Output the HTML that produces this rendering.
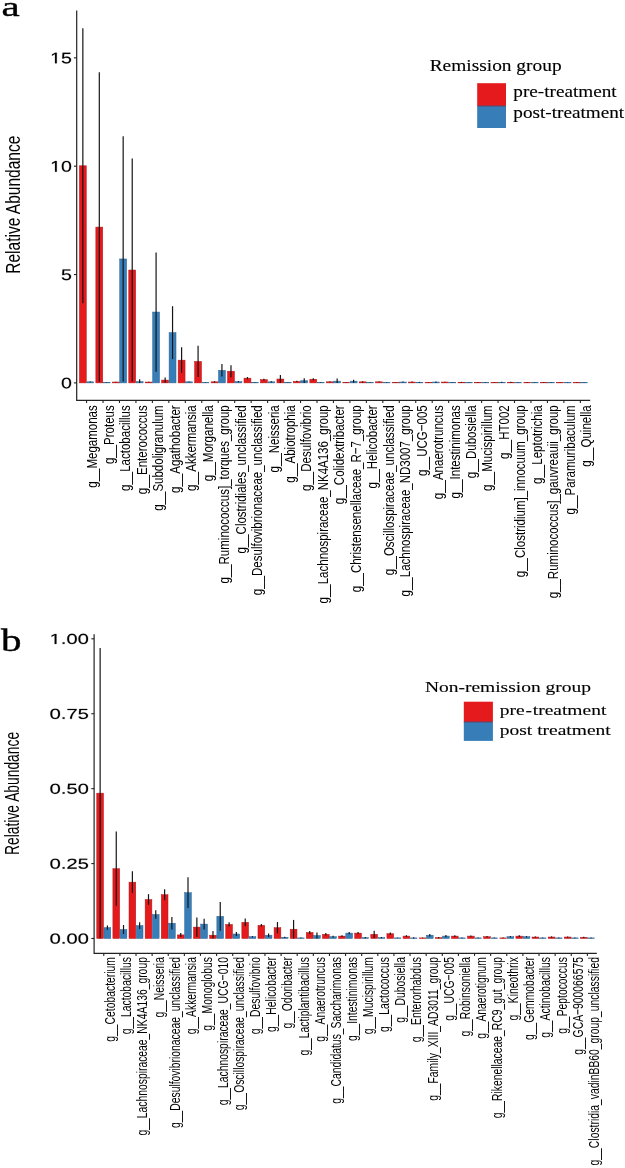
<!DOCTYPE html><html><head><meta charset="utf-8"><style>html,body{margin:0;padding:0;background:#fff;}svg{display:block;filter:blur(0.45px)}.s{font-family:"Liberation Sans",sans-serif;fill:#000}.f{font-family:"Liberation Serif",serif;fill:#000;stroke:#000;stroke-width:0.15px}.fb{stroke:#000;stroke-width:0.5px}</style></head><body>
<svg width="625" height="1168" viewBox="0 0 625 1168">
<rect width="625" height="1168" fill="#fff"/>
<defs><path id="g48" d="M1059 705Q1059 352 934.5 166.0Q810 -20 567 -20Q324 -20 202.0 165.0Q80 350 80 705Q80 1068 198.5 1249.0Q317 1430 573 1430Q822 1430 940.5 1247.0Q1059 1064 1059 705ZM876 705Q876 1010 805.5 1147.0Q735 1284 573 1284Q407 1284 334.5 1149.0Q262 1014 262 705Q262 405 335.5 266.0Q409 127 569 127Q728 127 802.0 269.0Q876 411 876 705Z"/><path id="g49" d="M515 0V1237L197 1010V1180L530 1409H696V0Z"/><path id="g50" d="M103 0V127Q154 244 227.5 333.5Q301 423 382.0 495.5Q463 568 542.5 630.0Q622 692 686.0 754.0Q750 816 789.5 884.0Q829 952 829 1038Q829 1154 761.0 1218.0Q693 1282 572 1282Q457 1282 382.5 1219.5Q308 1157 295 1044L111 1061Q131 1230 254.5 1330.0Q378 1430 572 1430Q785 1430 899.5 1329.5Q1014 1229 1014 1044Q1014 962 976.5 881.0Q939 800 865.0 719.0Q791 638 582 468Q467 374 399.0 298.5Q331 223 301 153H1036V0Z"/><path id="g53" d="M1053 459Q1053 236 920.5 108.0Q788 -20 553 -20Q356 -20 235.0 66.0Q114 152 82 315L264 336Q321 127 557 127Q702 127 784.0 214.5Q866 302 866 455Q866 588 783.5 670.0Q701 752 561 752Q488 752 425.0 729.0Q362 706 299 651H123L170 1409H971V1256H334L307 809Q424 899 598 899Q806 899 929.5 777.0Q1053 655 1053 459Z"/><path id="g55" d="M1036 1263Q820 933 731.0 746.0Q642 559 597.5 377.0Q553 195 553 0H365Q365 270 479.5 568.5Q594 867 862 1256H105V1409H1036Z"/><path id="g46" d="M187 0V219H382V0Z"/></defs>
<rect x="79.39" y="165.77" width="6.91" height="217.13" fill="#E41A1C" stroke="#B5181B" stroke-width="0.5"/>
<rect x="86.80" y="381.82" width="6.91" height="1.08" fill="#377EB8" stroke="#2C6594" stroke-width="0.5"/>
<rect x="95.85" y="227.09" width="6.91" height="155.81" fill="#E41A1C" stroke="#B5181B" stroke-width="0.5"/>
<rect x="103.26" y="382.47" width="6.91" height="0.43" fill="#377EB8" stroke="#2C6594" stroke-width="0.5"/>
<rect x="112.31" y="382.03" width="6.91" height="0.87" fill="#E41A1C" stroke="#B5181B" stroke-width="0.5"/>
<rect x="119.72" y="258.95" width="6.91" height="123.95" fill="#377EB8" stroke="#2C6594" stroke-width="0.5"/>
<rect x="128.77" y="270.00" width="6.91" height="112.90" fill="#E41A1C" stroke="#B5181B" stroke-width="0.5"/>
<rect x="136.18" y="381.60" width="6.91" height="1.30" fill="#377EB8" stroke="#2C6594" stroke-width="0.5"/>
<rect x="145.23" y="382.03" width="6.91" height="0.87" fill="#E41A1C" stroke="#B5181B" stroke-width="0.5"/>
<rect x="152.64" y="312.04" width="6.91" height="70.86" fill="#377EB8" stroke="#2C6594" stroke-width="0.5"/>
<rect x="161.69" y="380.08" width="6.91" height="2.82" fill="#E41A1C" stroke="#B5181B" stroke-width="0.5"/>
<rect x="169.10" y="332.63" width="6.91" height="50.27" fill="#377EB8" stroke="#2C6594" stroke-width="0.5"/>
<rect x="178.15" y="360.15" width="6.91" height="22.75" fill="#E41A1C" stroke="#B5181B" stroke-width="0.5"/>
<rect x="185.56" y="381.82" width="6.91" height="1.08" fill="#377EB8" stroke="#2C6594" stroke-width="0.5"/>
<rect x="194.61" y="361.45" width="6.91" height="21.45" fill="#E41A1C" stroke="#B5181B" stroke-width="0.5"/>
<rect x="202.02" y="382.68" width="6.91" height="0.22" fill="#377EB8" stroke="#2C6594" stroke-width="0.5"/>
<rect x="211.07" y="381.82" width="6.91" height="1.08" fill="#E41A1C" stroke="#B5181B" stroke-width="0.5"/>
<rect x="218.48" y="370.33" width="6.91" height="12.57" fill="#377EB8" stroke="#2C6594" stroke-width="0.5"/>
<rect x="227.53" y="371.20" width="6.91" height="11.70" fill="#E41A1C" stroke="#B5181B" stroke-width="0.5"/>
<rect x="234.94" y="381.60" width="6.91" height="1.30" fill="#377EB8" stroke="#2C6594" stroke-width="0.5"/>
<rect x="243.99" y="378.13" width="6.91" height="4.77" fill="#E41A1C" stroke="#B5181B" stroke-width="0.5"/>
<rect x="251.40" y="382.47" width="6.91" height="0.43" fill="#377EB8" stroke="#2C6594" stroke-width="0.5"/>
<rect x="260.45" y="379.65" width="6.91" height="3.25" fill="#E41A1C" stroke="#B5181B" stroke-width="0.5"/>
<rect x="267.86" y="381.82" width="6.91" height="1.08" fill="#377EB8" stroke="#2C6594" stroke-width="0.5"/>
<rect x="276.91" y="379.00" width="6.91" height="3.90" fill="#E41A1C" stroke="#B5181B" stroke-width="0.5"/>
<rect x="284.32" y="382.47" width="6.91" height="0.43" fill="#377EB8" stroke="#2C6594" stroke-width="0.5"/>
<rect x="293.37" y="381.38" width="6.91" height="1.52" fill="#E41A1C" stroke="#B5181B" stroke-width="0.5"/>
<rect x="300.78" y="380.73" width="6.91" height="2.17" fill="#377EB8" stroke="#2C6594" stroke-width="0.5"/>
<rect x="309.83" y="379.22" width="6.91" height="3.68" fill="#E41A1C" stroke="#B5181B" stroke-width="0.5"/>
<rect x="317.24" y="382.47" width="6.91" height="0.43" fill="#377EB8" stroke="#2C6594" stroke-width="0.5"/>
<rect x="326.29" y="381.82" width="6.91" height="1.08" fill="#E41A1C" stroke="#B5181B" stroke-width="0.5"/>
<rect x="333.70" y="381.17" width="6.91" height="1.73" fill="#377EB8" stroke="#2C6594" stroke-width="0.5"/>
<rect x="342.75" y="382.47" width="6.91" height="0.43" fill="#E41A1C" stroke="#B5181B" stroke-width="0.5"/>
<rect x="350.16" y="381.17" width="6.91" height="1.73" fill="#377EB8" stroke="#2C6594" stroke-width="0.5"/>
<rect x="359.21" y="381.82" width="6.91" height="1.08" fill="#E41A1C" stroke="#B5181B" stroke-width="0.5"/>
<rect x="366.62" y="382.47" width="6.91" height="0.43" fill="#377EB8" stroke="#2C6594" stroke-width="0.5"/>
<rect x="375.67" y="381.82" width="6.91" height="1.08" fill="#E41A1C" stroke="#B5181B" stroke-width="0.5"/>
<rect x="383.08" y="382.47" width="6.91" height="0.43" fill="#377EB8" stroke="#2C6594" stroke-width="0.5"/>
<rect x="392.13" y="382.47" width="6.91" height="0.43" fill="#E41A1C" stroke="#B5181B" stroke-width="0.5"/>
<rect x="399.54" y="382.03" width="6.91" height="0.87" fill="#377EB8" stroke="#2C6594" stroke-width="0.5"/>
<rect x="408.59" y="382.03" width="6.91" height="0.87" fill="#E41A1C" stroke="#B5181B" stroke-width="0.5"/>
<rect x="416.00" y="382.25" width="6.91" height="0.65" fill="#377EB8" stroke="#2C6594" stroke-width="0.5"/>
<rect x="425.05" y="382.47" width="6.91" height="0.43" fill="#E41A1C" stroke="#B5181B" stroke-width="0.5"/>
<rect x="432.46" y="382.03" width="6.91" height="0.87" fill="#377EB8" stroke="#2C6594" stroke-width="0.5"/>
<rect x="441.51" y="382.03" width="6.91" height="0.87" fill="#E41A1C" stroke="#B5181B" stroke-width="0.5"/>
<rect x="448.92" y="382.25" width="6.91" height="0.65" fill="#377EB8" stroke="#2C6594" stroke-width="0.5"/>
<rect x="457.97" y="382.25" width="6.91" height="0.65" fill="#E41A1C" stroke="#B5181B" stroke-width="0.5"/>
<rect x="465.38" y="382.47" width="6.91" height="0.43" fill="#377EB8" stroke="#2C6594" stroke-width="0.5"/>
<rect x="474.43" y="382.25" width="6.91" height="0.65" fill="#E41A1C" stroke="#B5181B" stroke-width="0.5"/>
<rect x="481.84" y="382.47" width="6.91" height="0.43" fill="#377EB8" stroke="#2C6594" stroke-width="0.5"/>
<rect x="490.89" y="382.47" width="6.91" height="0.43" fill="#E41A1C" stroke="#B5181B" stroke-width="0.5"/>
<rect x="498.30" y="382.25" width="6.91" height="0.65" fill="#377EB8" stroke="#2C6594" stroke-width="0.5"/>
<rect x="507.35" y="382.25" width="6.91" height="0.65" fill="#E41A1C" stroke="#B5181B" stroke-width="0.5"/>
<rect x="514.76" y="382.68" width="6.91" height="0.22" fill="#377EB8" stroke="#2C6594" stroke-width="0.5"/>
<rect x="523.81" y="382.47" width="6.91" height="0.43" fill="#E41A1C" stroke="#B5181B" stroke-width="0.5"/>
<rect x="531.22" y="382.47" width="6.91" height="0.43" fill="#377EB8" stroke="#2C6594" stroke-width="0.5"/>
<rect x="540.27" y="382.47" width="6.91" height="0.43" fill="#E41A1C" stroke="#B5181B" stroke-width="0.5"/>
<rect x="547.68" y="382.47" width="6.91" height="0.43" fill="#377EB8" stroke="#2C6594" stroke-width="0.5"/>
<rect x="556.73" y="382.47" width="6.91" height="0.43" fill="#E41A1C" stroke="#B5181B" stroke-width="0.5"/>
<rect x="564.14" y="382.68" width="6.91" height="0.22" fill="#377EB8" stroke="#2C6594" stroke-width="0.5"/>
<rect x="573.19" y="382.47" width="6.91" height="0.43" fill="#E41A1C" stroke="#B5181B" stroke-width="0.5"/>
<rect x="580.60" y="382.68" width="6.91" height="0.22" fill="#377EB8" stroke="#2C6594" stroke-width="0.5"/>
<line x1="82.85" y1="28.16" x2="82.85" y2="303.37" stroke="#151515" stroke-width="1.2"/>
<line x1="90.25" y1="381.38" x2="90.25" y2="382.25" stroke="#151515" stroke-width="1.2"/>
<line x1="99.31" y1="72.37" x2="99.31" y2="381.82" stroke="#151515" stroke-width="1.2"/>
<line x1="106.71" y1="382.25" x2="106.71" y2="382.68" stroke="#151515" stroke-width="1.2"/>
<line x1="115.77" y1="381.82" x2="115.77" y2="382.25" stroke="#151515" stroke-width="1.2"/>
<line x1="123.17" y1="136.30" x2="123.17" y2="381.60" stroke="#151515" stroke-width="1.2"/>
<line x1="132.23" y1="158.40" x2="132.23" y2="381.60" stroke="#151515" stroke-width="1.2"/>
<line x1="139.63" y1="379.22" x2="139.63" y2="382.90" stroke="#151515" stroke-width="1.2"/>
<line x1="148.69" y1="381.82" x2="148.69" y2="382.25" stroke="#151515" stroke-width="1.2"/>
<line x1="156.09" y1="252.45" x2="156.09" y2="371.63" stroke="#151515" stroke-width="1.2"/>
<line x1="165.15" y1="377.48" x2="165.15" y2="382.68" stroke="#151515" stroke-width="1.2"/>
<line x1="172.55" y1="306.19" x2="172.55" y2="359.06" stroke="#151515" stroke-width="1.2"/>
<line x1="181.61" y1="347.36" x2="181.61" y2="372.93" stroke="#151515" stroke-width="1.2"/>
<line x1="189.01" y1="381.38" x2="189.01" y2="382.25" stroke="#151515" stroke-width="1.2"/>
<line x1="198.07" y1="345.84" x2="198.07" y2="377.05" stroke="#151515" stroke-width="1.2"/>
<line x1="205.47" y1="382.47" x2="205.47" y2="382.90" stroke="#151515" stroke-width="1.2"/>
<line x1="214.53" y1="381.17" x2="214.53" y2="382.47" stroke="#151515" stroke-width="1.2"/>
<line x1="221.93" y1="364.05" x2="221.93" y2="376.62" stroke="#151515" stroke-width="1.2"/>
<line x1="230.99" y1="365.13" x2="230.99" y2="377.27" stroke="#151515" stroke-width="1.2"/>
<line x1="238.39" y1="380.95" x2="238.39" y2="382.25" stroke="#151515" stroke-width="1.2"/>
<line x1="247.45" y1="377.05" x2="247.45" y2="379.22" stroke="#151515" stroke-width="1.2"/>
<line x1="254.85" y1="382.25" x2="254.85" y2="382.68" stroke="#151515" stroke-width="1.2"/>
<line x1="263.91" y1="378.78" x2="263.91" y2="380.52" stroke="#151515" stroke-width="1.2"/>
<line x1="271.31" y1="381.17" x2="271.31" y2="382.47" stroke="#151515" stroke-width="1.2"/>
<line x1="280.37" y1="374.88" x2="280.37" y2="382.90" stroke="#151515" stroke-width="1.2"/>
<line x1="287.77" y1="382.25" x2="287.77" y2="382.68" stroke="#151515" stroke-width="1.2"/>
<line x1="296.83" y1="380.73" x2="296.83" y2="382.03" stroke="#151515" stroke-width="1.2"/>
<line x1="304.23" y1="378.13" x2="304.23" y2="382.90" stroke="#151515" stroke-width="1.2"/>
<line x1="313.29" y1="378.13" x2="313.29" y2="380.30" stroke="#151515" stroke-width="1.2"/>
<line x1="320.69" y1="382.25" x2="320.69" y2="382.68" stroke="#151515" stroke-width="1.2"/>
<line x1="329.75" y1="381.38" x2="329.75" y2="382.25" stroke="#151515" stroke-width="1.2"/>
<line x1="337.15" y1="378.57" x2="337.15" y2="382.90" stroke="#151515" stroke-width="1.2"/>
<line x1="346.21" y1="382.25" x2="346.21" y2="382.68" stroke="#151515" stroke-width="1.2"/>
<line x1="353.61" y1="379.65" x2="353.61" y2="382.68" stroke="#151515" stroke-width="1.2"/>
<line x1="362.67" y1="381.17" x2="362.67" y2="382.47" stroke="#151515" stroke-width="1.2"/>
<line x1="370.07" y1="382.25" x2="370.07" y2="382.68" stroke="#151515" stroke-width="1.2"/>
<line x1="379.13" y1="381.38" x2="379.13" y2="382.25" stroke="#151515" stroke-width="1.2"/>
<line x1="386.53" y1="382.25" x2="386.53" y2="382.68" stroke="#151515" stroke-width="1.2"/>
<line x1="395.59" y1="382.25" x2="395.59" y2="382.68" stroke="#151515" stroke-width="1.2"/>
<line x1="402.99" y1="381.60" x2="402.99" y2="382.47" stroke="#151515" stroke-width="1.2"/>
<line x1="412.05" y1="381.60" x2="412.05" y2="382.47" stroke="#151515" stroke-width="1.2"/>
<line x1="419.45" y1="381.82" x2="419.45" y2="382.68" stroke="#151515" stroke-width="1.2"/>
<line x1="428.51" y1="382.25" x2="428.51" y2="382.68" stroke="#151515" stroke-width="1.2"/>
<line x1="435.91" y1="381.38" x2="435.91" y2="382.68" stroke="#151515" stroke-width="1.2"/>
<line x1="444.97" y1="381.82" x2="444.97" y2="382.25" stroke="#151515" stroke-width="1.2"/>
<line x1="452.37" y1="382.03" x2="452.37" y2="382.47" stroke="#151515" stroke-width="1.2"/>
<line x1="461.43" y1="381.82" x2="461.43" y2="382.68" stroke="#151515" stroke-width="1.2"/>
<line x1="468.83" y1="382.25" x2="468.83" y2="382.68" stroke="#151515" stroke-width="1.2"/>
<line x1="477.89" y1="382.03" x2="477.89" y2="382.47" stroke="#151515" stroke-width="1.2"/>
<line x1="485.29" y1="382.25" x2="485.29" y2="382.68" stroke="#151515" stroke-width="1.2"/>
<line x1="494.35" y1="382.25" x2="494.35" y2="382.68" stroke="#151515" stroke-width="1.2"/>
<line x1="501.75" y1="381.82" x2="501.75" y2="382.68" stroke="#151515" stroke-width="1.2"/>
<line x1="510.81" y1="381.82" x2="510.81" y2="382.68" stroke="#151515" stroke-width="1.2"/>
<line x1="518.21" y1="382.47" x2="518.21" y2="382.90" stroke="#151515" stroke-width="1.2"/>
<line x1="527.27" y1="382.25" x2="527.27" y2="382.68" stroke="#151515" stroke-width="1.2"/>
<line x1="534.67" y1="382.25" x2="534.67" y2="382.68" stroke="#151515" stroke-width="1.2"/>
<line x1="543.73" y1="382.25" x2="543.73" y2="382.68" stroke="#151515" stroke-width="1.2"/>
<line x1="551.13" y1="382.25" x2="551.13" y2="382.68" stroke="#151515" stroke-width="1.2"/>
<line x1="560.19" y1="382.25" x2="560.19" y2="382.68" stroke="#151515" stroke-width="1.2"/>
<line x1="567.59" y1="382.47" x2="567.59" y2="382.90" stroke="#151515" stroke-width="1.2"/>
<line x1="576.65" y1="382.25" x2="576.65" y2="382.68" stroke="#151515" stroke-width="1.2"/>
<line x1="584.05" y1="382.47" x2="584.05" y2="382.90" stroke="#151515" stroke-width="1.2"/>
<path d="M76.7 10.5 V400.4 H590.2" fill="none" stroke="#222222" stroke-width="1.2"/>
<line x1="73.90" y1="382.90" x2="76.7" y2="382.90" stroke="#222222" stroke-width="1.1"/>
<g transform="translate(61.00,388.35) scale(0.00957,-0.00749)" fill="#000" stroke="#000" stroke-width="26.1"><use href="#g48" x="0"/></g>
<line x1="73.90" y1="274.55" x2="76.7" y2="274.55" stroke="#222222" stroke-width="1.1"/>
<g transform="translate(61.00,280.00) scale(0.00957,-0.00749)" fill="#000" stroke="#000" stroke-width="26.1"><use href="#g53" x="0"/></g>
<line x1="73.90" y1="166.20" x2="76.7" y2="166.20" stroke="#222222" stroke-width="1.1"/>
<g transform="translate(50.10,171.65) scale(0.00957,-0.00749)" fill="#000" stroke="#000" stroke-width="26.1"><use href="#g49" x="0"/><use href="#g48" x="1139"/></g>
<line x1="73.90" y1="57.85" x2="76.7" y2="57.85" stroke="#222222" stroke-width="1.1"/>
<g transform="translate(50.10,63.30) scale(0.00957,-0.00749)" fill="#000" stroke="#000" stroke-width="26.1"><use href="#g49" x="0"/><use href="#g53" x="1139"/></g>
<line x1="86.55" y1="400.4" x2="86.55" y2="403.00" stroke="#222222" stroke-width="1.1"/>
<text transform="translate(97.45,405.3) scale(1,0.757) rotate(-90)" font-size="15.2" text-anchor="end" class="s">g__Megamonas</text>
<line x1="103.01" y1="400.4" x2="103.01" y2="403.00" stroke="#222222" stroke-width="1.1"/>
<text transform="translate(113.91,405.3) scale(1,0.757) rotate(-90)" font-size="15.2" text-anchor="end" class="s">g__Proteus</text>
<line x1="119.47" y1="400.4" x2="119.47" y2="403.00" stroke="#222222" stroke-width="1.1"/>
<text transform="translate(130.37,405.3) scale(1,0.757) rotate(-90)" font-size="15.2" text-anchor="end" class="s">g__Lactobacillus</text>
<line x1="135.93" y1="400.4" x2="135.93" y2="403.00" stroke="#222222" stroke-width="1.1"/>
<text transform="translate(146.83,405.3) scale(1,0.757) rotate(-90)" font-size="15.2" text-anchor="end" class="s">g__Enterococcus</text>
<line x1="152.39" y1="400.4" x2="152.39" y2="403.00" stroke="#222222" stroke-width="1.1"/>
<text transform="translate(163.29,405.3) scale(1,0.757) rotate(-90)" font-size="15.2" text-anchor="end" class="s">g__Subdoligranulum</text>
<line x1="168.85" y1="400.4" x2="168.85" y2="403.00" stroke="#222222" stroke-width="1.1"/>
<text transform="translate(179.75,405.3) scale(1,0.757) rotate(-90)" font-size="15.2" text-anchor="end" class="s">g__Agathobacter</text>
<line x1="185.31" y1="400.4" x2="185.31" y2="403.00" stroke="#222222" stroke-width="1.1"/>
<text transform="translate(196.21,405.3) scale(1,0.757) rotate(-90)" font-size="15.2" text-anchor="end" class="s">g__Akkermansia</text>
<line x1="201.77" y1="400.4" x2="201.77" y2="403.00" stroke="#222222" stroke-width="1.1"/>
<text transform="translate(212.67,405.3) scale(1,0.757) rotate(-90)" font-size="15.2" text-anchor="end" class="s">g__Morganella</text>
<line x1="218.23" y1="400.4" x2="218.23" y2="403.00" stroke="#222222" stroke-width="1.1"/>
<text transform="translate(229.13,405.3) scale(1,0.757) rotate(-90)" font-size="15.2" text-anchor="end" class="s">g__Ruminococcus]_torques_group</text>
<line x1="234.69" y1="400.4" x2="234.69" y2="403.00" stroke="#222222" stroke-width="1.1"/>
<text transform="translate(245.59,405.3) scale(1,0.757) rotate(-90)" font-size="15.2" text-anchor="end" class="s">g__Clostridiales_unclassified</text>
<line x1="251.15" y1="400.4" x2="251.15" y2="403.00" stroke="#222222" stroke-width="1.1"/>
<text transform="translate(262.05,405.3) scale(1,0.757) rotate(-90)" font-size="15.2" text-anchor="end" class="s">g__Desulfovibrionaceae_unclassified</text>
<line x1="267.61" y1="400.4" x2="267.61" y2="403.00" stroke="#222222" stroke-width="1.1"/>
<text transform="translate(278.51,405.3) scale(1,0.757) rotate(-90)" font-size="15.2" text-anchor="end" class="s">g__Neisseria</text>
<line x1="284.07" y1="400.4" x2="284.07" y2="403.00" stroke="#222222" stroke-width="1.1"/>
<text transform="translate(294.97,405.3) scale(1,0.757) rotate(-90)" font-size="15.2" text-anchor="end" class="s">g__Abiotrophia</text>
<line x1="300.53" y1="400.4" x2="300.53" y2="403.00" stroke="#222222" stroke-width="1.1"/>
<text transform="translate(311.43,405.3) scale(1,0.757) rotate(-90)" font-size="15.2" text-anchor="end" class="s">g__Desulfovibrio</text>
<line x1="316.99" y1="400.4" x2="316.99" y2="403.00" stroke="#222222" stroke-width="1.1"/>
<text transform="translate(327.89,405.3) scale(1,0.757) rotate(-90)" font-size="15.2" text-anchor="end" class="s">g__Lachnospiraceae_NK4A136_group</text>
<line x1="333.45" y1="400.4" x2="333.45" y2="403.00" stroke="#222222" stroke-width="1.1"/>
<text transform="translate(344.35,405.3) scale(1,0.757) rotate(-90)" font-size="15.2" text-anchor="end" class="s">g__Colidextribacter</text>
<line x1="349.91" y1="400.4" x2="349.91" y2="403.00" stroke="#222222" stroke-width="1.1"/>
<text transform="translate(360.81,405.3) scale(1,0.757) rotate(-90)" font-size="15.2" text-anchor="end" class="s">g__Christensenellaceae_R−7_group</text>
<line x1="366.37" y1="400.4" x2="366.37" y2="403.00" stroke="#222222" stroke-width="1.1"/>
<text transform="translate(377.27,405.3) scale(1,0.757) rotate(-90)" font-size="15.2" text-anchor="end" class="s">g__Helicobacter</text>
<line x1="382.83" y1="400.4" x2="382.83" y2="403.00" stroke="#222222" stroke-width="1.1"/>
<text transform="translate(393.73,405.3) scale(1,0.757) rotate(-90)" font-size="15.2" text-anchor="end" class="s">g__Oscillospiraceae_unclassified</text>
<line x1="399.29" y1="400.4" x2="399.29" y2="403.00" stroke="#222222" stroke-width="1.1"/>
<text transform="translate(410.19,405.3) scale(1,0.757) rotate(-90)" font-size="15.2" text-anchor="end" class="s">g__Lachnospiraceae_ND3007_group</text>
<line x1="415.75" y1="400.4" x2="415.75" y2="403.00" stroke="#222222" stroke-width="1.1"/>
<text transform="translate(426.65,405.3) scale(1,0.757) rotate(-90)" font-size="15.2" text-anchor="end" class="s">g__UCG−005</text>
<line x1="432.21" y1="400.4" x2="432.21" y2="403.00" stroke="#222222" stroke-width="1.1"/>
<text transform="translate(443.11,405.3) scale(1,0.757) rotate(-90)" font-size="15.2" text-anchor="end" class="s">g__Anaerotruncus</text>
<line x1="448.67" y1="400.4" x2="448.67" y2="403.00" stroke="#222222" stroke-width="1.1"/>
<text transform="translate(459.57,405.3) scale(1,0.757) rotate(-90)" font-size="15.2" text-anchor="end" class="s">g__Intestinimonas</text>
<line x1="465.13" y1="400.4" x2="465.13" y2="403.00" stroke="#222222" stroke-width="1.1"/>
<text transform="translate(476.03,405.3) scale(1,0.757) rotate(-90)" font-size="15.2" text-anchor="end" class="s">g__Dubosiella</text>
<line x1="481.59" y1="400.4" x2="481.59" y2="403.00" stroke="#222222" stroke-width="1.1"/>
<text transform="translate(492.49,405.3) scale(1,0.757) rotate(-90)" font-size="15.2" text-anchor="end" class="s">g__Mucispirillum</text>
<line x1="498.05" y1="400.4" x2="498.05" y2="403.00" stroke="#222222" stroke-width="1.1"/>
<text transform="translate(508.95,405.3) scale(1,0.757) rotate(-90)" font-size="15.2" text-anchor="end" class="s">g__HT002</text>
<line x1="514.51" y1="400.4" x2="514.51" y2="403.00" stroke="#222222" stroke-width="1.1"/>
<text transform="translate(525.41,405.3) scale(1,0.757) rotate(-90)" font-size="15.2" text-anchor="end" class="s">g__Clostridium]_innocuum_group</text>
<line x1="530.97" y1="400.4" x2="530.97" y2="403.00" stroke="#222222" stroke-width="1.1"/>
<text transform="translate(541.87,405.3) scale(1,0.757) rotate(-90)" font-size="15.2" text-anchor="end" class="s">g__Leptotrichia</text>
<line x1="547.43" y1="400.4" x2="547.43" y2="403.00" stroke="#222222" stroke-width="1.1"/>
<text transform="translate(558.33,405.3) scale(1,0.757) rotate(-90)" font-size="15.2" text-anchor="end" class="s">g__Ruminococcus]_gauvreauii_group</text>
<line x1="563.89" y1="400.4" x2="563.89" y2="403.00" stroke="#222222" stroke-width="1.1"/>
<text transform="translate(574.79,405.3) scale(1,0.757) rotate(-90)" font-size="15.2" text-anchor="end" class="s">g__Paramuribaculum</text>
<line x1="580.35" y1="400.4" x2="580.35" y2="403.00" stroke="#222222" stroke-width="1.1"/>
<text transform="translate(591.25,405.3) scale(1,0.757) rotate(-90)" font-size="15.2" text-anchor="end" class="s">g__Quinella</text>
<text transform="translate(19.9,204.7) scale(1,0.747) rotate(-90)" font-size="20.8" text-anchor="middle" class="s">Relative Abundance</text>
<rect x="96.77" y="793.15" width="6.75" height="145.35" fill="#E41A1C" stroke="#B5181B" stroke-width="0.5"/>
<rect x="104.02" y="927.71" width="6.75" height="10.79" fill="#377EB8" stroke="#2C6594" stroke-width="0.5"/>
<rect x="112.89" y="868.67" width="6.75" height="69.83" fill="#E41A1C" stroke="#B5181B" stroke-width="0.5"/>
<rect x="120.14" y="929.51" width="6.75" height="8.99" fill="#377EB8" stroke="#2C6594" stroke-width="0.5"/>
<rect x="129.01" y="882.16" width="6.75" height="56.34" fill="#E41A1C" stroke="#B5181B" stroke-width="0.5"/>
<rect x="136.26" y="925.61" width="6.75" height="12.89" fill="#377EB8" stroke="#2C6594" stroke-width="0.5"/>
<rect x="145.13" y="899.54" width="6.75" height="38.96" fill="#E41A1C" stroke="#B5181B" stroke-width="0.5"/>
<rect x="152.38" y="914.52" width="6.75" height="23.98" fill="#377EB8" stroke="#2C6594" stroke-width="0.5"/>
<rect x="161.25" y="894.74" width="6.75" height="43.76" fill="#E41A1C" stroke="#B5181B" stroke-width="0.5"/>
<rect x="168.50" y="923.22" width="6.75" height="15.28" fill="#377EB8" stroke="#2C6594" stroke-width="0.5"/>
<rect x="177.37" y="934.90" width="6.75" height="3.60" fill="#E41A1C" stroke="#B5181B" stroke-width="0.5"/>
<rect x="184.62" y="892.65" width="6.75" height="45.85" fill="#377EB8" stroke="#2C6594" stroke-width="0.5"/>
<rect x="193.49" y="927.11" width="6.75" height="11.39" fill="#E41A1C" stroke="#B5181B" stroke-width="0.5"/>
<rect x="200.74" y="924.11" width="6.75" height="14.39" fill="#377EB8" stroke="#2C6594" stroke-width="0.5"/>
<rect x="209.61" y="935.20" width="6.75" height="3.30" fill="#E41A1C" stroke="#B5181B" stroke-width="0.5"/>
<rect x="216.86" y="916.32" width="6.75" height="22.18" fill="#377EB8" stroke="#2C6594" stroke-width="0.5"/>
<rect x="225.73" y="924.41" width="6.75" height="14.09" fill="#E41A1C" stroke="#B5181B" stroke-width="0.5"/>
<rect x="232.98" y="934.00" width="6.75" height="4.50" fill="#377EB8" stroke="#2C6594" stroke-width="0.5"/>
<rect x="241.85" y="922.32" width="6.75" height="16.18" fill="#E41A1C" stroke="#B5181B" stroke-width="0.5"/>
<rect x="249.10" y="936.70" width="6.75" height="1.80" fill="#377EB8" stroke="#2C6594" stroke-width="0.5"/>
<rect x="257.97" y="925.31" width="6.75" height="13.19" fill="#E41A1C" stroke="#B5181B" stroke-width="0.5"/>
<rect x="265.22" y="935.20" width="6.75" height="3.30" fill="#377EB8" stroke="#2C6594" stroke-width="0.5"/>
<rect x="274.09" y="927.71" width="6.75" height="10.79" fill="#E41A1C" stroke="#B5181B" stroke-width="0.5"/>
<rect x="281.34" y="937.30" width="6.75" height="1.20" fill="#377EB8" stroke="#2C6594" stroke-width="0.5"/>
<rect x="290.21" y="929.21" width="6.75" height="9.29" fill="#E41A1C" stroke="#B5181B" stroke-width="0.5"/>
<rect x="297.46" y="937.90" width="6.75" height="0.60" fill="#377EB8" stroke="#2C6594" stroke-width="0.5"/>
<rect x="306.33" y="932.51" width="6.75" height="5.99" fill="#E41A1C" stroke="#B5181B" stroke-width="0.5"/>
<rect x="313.58" y="935.50" width="6.75" height="3.00" fill="#377EB8" stroke="#2C6594" stroke-width="0.5"/>
<rect x="322.45" y="934.30" width="6.75" height="4.20" fill="#E41A1C" stroke="#B5181B" stroke-width="0.5"/>
<rect x="329.70" y="936.70" width="6.75" height="1.80" fill="#377EB8" stroke="#2C6594" stroke-width="0.5"/>
<rect x="338.57" y="936.10" width="6.75" height="2.40" fill="#E41A1C" stroke="#B5181B" stroke-width="0.5"/>
<rect x="345.82" y="933.11" width="6.75" height="5.39" fill="#377EB8" stroke="#2C6594" stroke-width="0.5"/>
<rect x="354.69" y="933.11" width="6.75" height="5.39" fill="#E41A1C" stroke="#B5181B" stroke-width="0.5"/>
<rect x="361.94" y="937.60" width="6.75" height="0.90" fill="#377EB8" stroke="#2C6594" stroke-width="0.5"/>
<rect x="370.81" y="934.30" width="6.75" height="4.20" fill="#E41A1C" stroke="#B5181B" stroke-width="0.5"/>
<rect x="378.06" y="937.60" width="6.75" height="0.90" fill="#377EB8" stroke="#2C6594" stroke-width="0.5"/>
<rect x="386.93" y="933.70" width="6.75" height="4.80" fill="#E41A1C" stroke="#B5181B" stroke-width="0.5"/>
<rect x="394.18" y="937.90" width="6.75" height="0.60" fill="#377EB8" stroke="#2C6594" stroke-width="0.5"/>
<rect x="403.05" y="936.10" width="6.75" height="2.40" fill="#E41A1C" stroke="#B5181B" stroke-width="0.5"/>
<rect x="410.30" y="937.90" width="6.75" height="0.60" fill="#377EB8" stroke="#2C6594" stroke-width="0.5"/>
<rect x="419.17" y="937.90" width="6.75" height="0.60" fill="#E41A1C" stroke="#B5181B" stroke-width="0.5"/>
<rect x="426.42" y="935.20" width="6.75" height="3.30" fill="#377EB8" stroke="#2C6594" stroke-width="0.5"/>
<rect x="435.29" y="937.60" width="6.75" height="0.90" fill="#E41A1C" stroke="#B5181B" stroke-width="0.5"/>
<rect x="442.54" y="936.10" width="6.75" height="2.40" fill="#377EB8" stroke="#2C6594" stroke-width="0.5"/>
<rect x="451.41" y="936.10" width="6.75" height="2.40" fill="#E41A1C" stroke="#B5181B" stroke-width="0.5"/>
<rect x="458.66" y="937.90" width="6.75" height="0.60" fill="#377EB8" stroke="#2C6594" stroke-width="0.5"/>
<rect x="467.53" y="936.10" width="6.75" height="2.40" fill="#E41A1C" stroke="#B5181B" stroke-width="0.5"/>
<rect x="474.78" y="937.90" width="6.75" height="0.60" fill="#377EB8" stroke="#2C6594" stroke-width="0.5"/>
<rect x="483.65" y="936.70" width="6.75" height="1.80" fill="#E41A1C" stroke="#B5181B" stroke-width="0.5"/>
<rect x="490.90" y="937.90" width="6.75" height="0.60" fill="#377EB8" stroke="#2C6594" stroke-width="0.5"/>
<rect x="499.77" y="937.90" width="6.75" height="0.60" fill="#E41A1C" stroke="#B5181B" stroke-width="0.5"/>
<rect x="507.02" y="936.70" width="6.75" height="1.80" fill="#377EB8" stroke="#2C6594" stroke-width="0.5"/>
<rect x="515.89" y="936.10" width="6.75" height="2.40" fill="#E41A1C" stroke="#B5181B" stroke-width="0.5"/>
<rect x="523.14" y="936.70" width="6.75" height="1.80" fill="#377EB8" stroke="#2C6594" stroke-width="0.5"/>
<rect x="532.01" y="937.00" width="6.75" height="1.50" fill="#E41A1C" stroke="#B5181B" stroke-width="0.5"/>
<rect x="539.26" y="937.90" width="6.75" height="0.60" fill="#377EB8" stroke="#2C6594" stroke-width="0.5"/>
<rect x="548.13" y="937.00" width="6.75" height="1.50" fill="#E41A1C" stroke="#B5181B" stroke-width="0.5"/>
<rect x="555.38" y="937.90" width="6.75" height="0.60" fill="#377EB8" stroke="#2C6594" stroke-width="0.5"/>
<rect x="564.25" y="937.00" width="6.75" height="1.50" fill="#E41A1C" stroke="#B5181B" stroke-width="0.5"/>
<rect x="571.50" y="937.90" width="6.75" height="0.60" fill="#377EB8" stroke="#2C6594" stroke-width="0.5"/>
<rect x="580.37" y="937.30" width="6.75" height="1.20" fill="#E41A1C" stroke="#B5181B" stroke-width="0.5"/>
<rect x="587.62" y="937.90" width="6.75" height="0.60" fill="#377EB8" stroke="#2C6594" stroke-width="0.5"/>
<line x1="100.14" y1="648.09" x2="100.14" y2="938.20" stroke="#151515" stroke-width="1.2"/>
<line x1="107.40" y1="925.61" x2="107.40" y2="929.81" stroke="#151515" stroke-width="1.2"/>
<line x1="116.26" y1="831.51" x2="116.26" y2="905.83" stroke="#151515" stroke-width="1.2"/>
<line x1="123.52" y1="925.01" x2="123.52" y2="934.00" stroke="#151515" stroke-width="1.2"/>
<line x1="132.38" y1="871.37" x2="132.38" y2="892.95" stroke="#151515" stroke-width="1.2"/>
<line x1="139.64" y1="922.32" x2="139.64" y2="928.91" stroke="#151515" stroke-width="1.2"/>
<line x1="148.50" y1="894.14" x2="148.50" y2="904.93" stroke="#151515" stroke-width="1.2"/>
<line x1="155.76" y1="910.33" x2="155.76" y2="918.72" stroke="#151515" stroke-width="1.2"/>
<line x1="164.62" y1="889.35" x2="164.62" y2="900.14" stroke="#151515" stroke-width="1.2"/>
<line x1="171.88" y1="916.92" x2="171.88" y2="929.51" stroke="#151515" stroke-width="1.2"/>
<line x1="180.74" y1="933.11" x2="180.74" y2="936.70" stroke="#151515" stroke-width="1.2"/>
<line x1="188.00" y1="877.36" x2="188.00" y2="907.93" stroke="#151515" stroke-width="1.2"/>
<line x1="196.86" y1="917.52" x2="196.86" y2="936.70" stroke="#151515" stroke-width="1.2"/>
<line x1="204.12" y1="918.72" x2="204.12" y2="929.51" stroke="#151515" stroke-width="1.2"/>
<line x1="212.98" y1="931.01" x2="212.98" y2="938.50" stroke="#151515" stroke-width="1.2"/>
<line x1="220.24" y1="901.94" x2="220.24" y2="930.71" stroke="#151515" stroke-width="1.2"/>
<line x1="229.10" y1="922.32" x2="229.10" y2="926.51" stroke="#151515" stroke-width="1.2"/>
<line x1="236.36" y1="931.91" x2="236.36" y2="936.10" stroke="#151515" stroke-width="1.2"/>
<line x1="245.22" y1="918.42" x2="245.22" y2="926.21" stroke="#151515" stroke-width="1.2"/>
<line x1="252.48" y1="936.10" x2="252.48" y2="937.30" stroke="#151515" stroke-width="1.2"/>
<line x1="261.34" y1="924.11" x2="261.34" y2="926.51" stroke="#151515" stroke-width="1.2"/>
<line x1="268.60" y1="933.41" x2="268.60" y2="937.00" stroke="#151515" stroke-width="1.2"/>
<line x1="277.46" y1="922.02" x2="277.46" y2="933.41" stroke="#151515" stroke-width="1.2"/>
<line x1="284.72" y1="936.70" x2="284.72" y2="937.90" stroke="#151515" stroke-width="1.2"/>
<line x1="293.58" y1="919.92" x2="293.58" y2="938.50" stroke="#151515" stroke-width="1.2"/>
<line x1="300.84" y1="937.60" x2="300.84" y2="938.20" stroke="#151515" stroke-width="1.2"/>
<line x1="309.70" y1="931.01" x2="309.70" y2="934.00" stroke="#151515" stroke-width="1.2"/>
<line x1="316.96" y1="932.51" x2="316.96" y2="938.50" stroke="#151515" stroke-width="1.2"/>
<line x1="325.82" y1="933.11" x2="325.82" y2="935.50" stroke="#151515" stroke-width="1.2"/>
<line x1="333.08" y1="935.80" x2="333.08" y2="937.60" stroke="#151515" stroke-width="1.2"/>
<line x1="341.94" y1="935.20" x2="341.94" y2="937.00" stroke="#151515" stroke-width="1.2"/>
<line x1="349.20" y1="931.91" x2="349.20" y2="934.30" stroke="#151515" stroke-width="1.2"/>
<line x1="358.06" y1="931.91" x2="358.06" y2="934.30" stroke="#151515" stroke-width="1.2"/>
<line x1="365.32" y1="937.00" x2="365.32" y2="938.20" stroke="#151515" stroke-width="1.2"/>
<line x1="374.18" y1="930.71" x2="374.18" y2="937.90" stroke="#151515" stroke-width="1.2"/>
<line x1="381.44" y1="937.00" x2="381.44" y2="938.20" stroke="#151515" stroke-width="1.2"/>
<line x1="390.30" y1="932.51" x2="390.30" y2="934.90" stroke="#151515" stroke-width="1.2"/>
<line x1="397.56" y1="937.60" x2="397.56" y2="938.20" stroke="#151515" stroke-width="1.2"/>
<line x1="406.42" y1="935.20" x2="406.42" y2="937.00" stroke="#151515" stroke-width="1.2"/>
<line x1="413.68" y1="937.30" x2="413.68" y2="938.50" stroke="#151515" stroke-width="1.2"/>
<line x1="422.54" y1="937.60" x2="422.54" y2="938.20" stroke="#151515" stroke-width="1.2"/>
<line x1="429.80" y1="934.00" x2="429.80" y2="936.40" stroke="#151515" stroke-width="1.2"/>
<line x1="438.66" y1="937.00" x2="438.66" y2="938.20" stroke="#151515" stroke-width="1.2"/>
<line x1="445.92" y1="934.90" x2="445.92" y2="937.30" stroke="#151515" stroke-width="1.2"/>
<line x1="454.78" y1="935.20" x2="454.78" y2="937.00" stroke="#151515" stroke-width="1.2"/>
<line x1="462.04" y1="937.60" x2="462.04" y2="938.20" stroke="#151515" stroke-width="1.2"/>
<line x1="470.90" y1="935.50" x2="470.90" y2="936.70" stroke="#151515" stroke-width="1.2"/>
<line x1="478.16" y1="937.60" x2="478.16" y2="938.20" stroke="#151515" stroke-width="1.2"/>
<line x1="487.02" y1="936.10" x2="487.02" y2="937.30" stroke="#151515" stroke-width="1.2"/>
<line x1="494.28" y1="937.60" x2="494.28" y2="938.20" stroke="#151515" stroke-width="1.2"/>
<line x1="503.14" y1="937.60" x2="503.14" y2="938.20" stroke="#151515" stroke-width="1.2"/>
<line x1="510.40" y1="936.10" x2="510.40" y2="937.30" stroke="#151515" stroke-width="1.2"/>
<line x1="519.26" y1="935.20" x2="519.26" y2="937.00" stroke="#151515" stroke-width="1.2"/>
<line x1="526.52" y1="936.10" x2="526.52" y2="937.30" stroke="#151515" stroke-width="1.2"/>
<line x1="535.38" y1="936.40" x2="535.38" y2="937.60" stroke="#151515" stroke-width="1.2"/>
<line x1="542.64" y1="937.60" x2="542.64" y2="938.20" stroke="#151515" stroke-width="1.2"/>
<line x1="551.50" y1="936.40" x2="551.50" y2="937.60" stroke="#151515" stroke-width="1.2"/>
<line x1="558.76" y1="937.60" x2="558.76" y2="938.20" stroke="#151515" stroke-width="1.2"/>
<line x1="567.62" y1="936.40" x2="567.62" y2="937.60" stroke="#151515" stroke-width="1.2"/>
<line x1="574.88" y1="937.60" x2="574.88" y2="938.20" stroke="#151515" stroke-width="1.2"/>
<line x1="583.74" y1="936.70" x2="583.74" y2="937.90" stroke="#151515" stroke-width="1.2"/>
<line x1="591.00" y1="937.60" x2="591.00" y2="938.20" stroke="#151515" stroke-width="1.2"/>
<path d="M94.1 634.3 V953.3 H596.8" fill="none" stroke="#222222" stroke-width="1.2"/>
<line x1="91.30" y1="938.50" x2="94.1" y2="938.50" stroke="#222222" stroke-width="1.1"/>
<g transform="translate(49.58,943.61) scale(0.00986,-0.00703)" fill="#000" stroke="#000" stroke-width="25.3"><use href="#g48" x="0"/><use href="#g46" x="1139"/><use href="#g48" x="1708"/><use href="#g48" x="2847"/></g>
<line x1="91.30" y1="863.58" x2="94.1" y2="863.58" stroke="#222222" stroke-width="1.1"/>
<g transform="translate(49.58,868.69) scale(0.00986,-0.00703)" fill="#000" stroke="#000" stroke-width="25.3"><use href="#g48" x="0"/><use href="#g46" x="1139"/><use href="#g50" x="1708"/><use href="#g53" x="2847"/></g>
<line x1="91.30" y1="788.65" x2="94.1" y2="788.65" stroke="#222222" stroke-width="1.1"/>
<g transform="translate(49.58,793.76) scale(0.00986,-0.00703)" fill="#000" stroke="#000" stroke-width="25.3"><use href="#g48" x="0"/><use href="#g46" x="1139"/><use href="#g53" x="1708"/><use href="#g48" x="2847"/></g>
<line x1="91.30" y1="713.73" x2="94.1" y2="713.73" stroke="#222222" stroke-width="1.1"/>
<g transform="translate(49.58,718.84) scale(0.00986,-0.00703)" fill="#000" stroke="#000" stroke-width="25.3"><use href="#g48" x="0"/><use href="#g46" x="1139"/><use href="#g55" x="1708"/><use href="#g53" x="2847"/></g>
<line x1="91.30" y1="638.80" x2="94.1" y2="638.80" stroke="#222222" stroke-width="1.1"/>
<g transform="translate(49.58,643.91) scale(0.00986,-0.00703)" fill="#000" stroke="#000" stroke-width="25.3"><use href="#g49" x="0"/><use href="#g46" x="1139"/><use href="#g48" x="1708"/><use href="#g48" x="2847"/></g>
<line x1="103.77" y1="953.3" x2="103.77" y2="955.90" stroke="#222222" stroke-width="1.1"/>
<text transform="translate(115.17,957.1) scale(1,0.686) rotate(-90)" font-size="15.1" text-anchor="end" class="s">g__Cetobacterium</text>
<line x1="119.89" y1="953.3" x2="119.89" y2="955.90" stroke="#222222" stroke-width="1.1"/>
<text transform="translate(131.29,957.1) scale(1,0.686) rotate(-90)" font-size="15.1" text-anchor="end" class="s">g__Lactobacillus</text>
<line x1="136.01" y1="953.3" x2="136.01" y2="955.90" stroke="#222222" stroke-width="1.1"/>
<text transform="translate(147.41,957.1) scale(1,0.686) rotate(-90)" font-size="15.1" text-anchor="end" class="s">g__Lachnospiraceae_NK4A136_group</text>
<line x1="152.13" y1="953.3" x2="152.13" y2="955.90" stroke="#222222" stroke-width="1.1"/>
<text transform="translate(163.53,957.1) scale(1,0.686) rotate(-90)" font-size="15.1" text-anchor="end" class="s">g__Neisseria</text>
<line x1="168.25" y1="953.3" x2="168.25" y2="955.90" stroke="#222222" stroke-width="1.1"/>
<text transform="translate(179.65,957.1) scale(1,0.686) rotate(-90)" font-size="15.1" text-anchor="end" class="s">g__Desulfovibrionaceae_unclassified</text>
<line x1="184.37" y1="953.3" x2="184.37" y2="955.90" stroke="#222222" stroke-width="1.1"/>
<text transform="translate(195.77,957.1) scale(1,0.686) rotate(-90)" font-size="15.1" text-anchor="end" class="s">g__Akkermansia</text>
<line x1="200.49" y1="953.3" x2="200.49" y2="955.90" stroke="#222222" stroke-width="1.1"/>
<text transform="translate(211.89,957.1) scale(1,0.686) rotate(-90)" font-size="15.1" text-anchor="end" class="s">g__Monoglobus</text>
<line x1="216.61" y1="953.3" x2="216.61" y2="955.90" stroke="#222222" stroke-width="1.1"/>
<text transform="translate(228.01,957.1) scale(1,0.686) rotate(-90)" font-size="15.1" text-anchor="end" class="s">g__Lachnospiraceae_UCG−010</text>
<line x1="232.73" y1="953.3" x2="232.73" y2="955.90" stroke="#222222" stroke-width="1.1"/>
<text transform="translate(244.13,957.1) scale(1,0.686) rotate(-90)" font-size="15.1" text-anchor="end" class="s">g__Oscillospiraceae_unclassified</text>
<line x1="248.85" y1="953.3" x2="248.85" y2="955.90" stroke="#222222" stroke-width="1.1"/>
<text transform="translate(260.25,957.1) scale(1,0.686) rotate(-90)" font-size="15.1" text-anchor="end" class="s">g__Desulfovibrio</text>
<line x1="264.97" y1="953.3" x2="264.97" y2="955.90" stroke="#222222" stroke-width="1.1"/>
<text transform="translate(276.37,957.1) scale(1,0.686) rotate(-90)" font-size="15.1" text-anchor="end" class="s">g__Helicobacter</text>
<line x1="281.09" y1="953.3" x2="281.09" y2="955.90" stroke="#222222" stroke-width="1.1"/>
<text transform="translate(292.49,957.1) scale(1,0.686) rotate(-90)" font-size="15.1" text-anchor="end" class="s">g__Odoribacter</text>
<line x1="297.21" y1="953.3" x2="297.21" y2="955.90" stroke="#222222" stroke-width="1.1"/>
<text transform="translate(308.61,957.1) scale(1,0.686) rotate(-90)" font-size="15.1" text-anchor="end" class="s">g__Lactiplantibacillus</text>
<line x1="313.33" y1="953.3" x2="313.33" y2="955.90" stroke="#222222" stroke-width="1.1"/>
<text transform="translate(324.73,957.1) scale(1,0.686) rotate(-90)" font-size="15.1" text-anchor="end" class="s">g__Anaerotruncus</text>
<line x1="329.45" y1="953.3" x2="329.45" y2="955.90" stroke="#222222" stroke-width="1.1"/>
<text transform="translate(340.85,957.1) scale(1,0.686) rotate(-90)" font-size="15.1" text-anchor="end" class="s">g__Candidatus_Saccharimonas</text>
<line x1="345.57" y1="953.3" x2="345.57" y2="955.90" stroke="#222222" stroke-width="1.1"/>
<text transform="translate(356.97,957.1) scale(1,0.686) rotate(-90)" font-size="15.1" text-anchor="end" class="s">g__Intestinimonas</text>
<line x1="361.69" y1="953.3" x2="361.69" y2="955.90" stroke="#222222" stroke-width="1.1"/>
<text transform="translate(373.09,957.1) scale(1,0.686) rotate(-90)" font-size="15.1" text-anchor="end" class="s">g__Mucispirillum</text>
<line x1="377.81" y1="953.3" x2="377.81" y2="955.90" stroke="#222222" stroke-width="1.1"/>
<text transform="translate(389.21,957.1) scale(1,0.686) rotate(-90)" font-size="15.1" text-anchor="end" class="s">g__Lactococcus</text>
<line x1="393.93" y1="953.3" x2="393.93" y2="955.90" stroke="#222222" stroke-width="1.1"/>
<text transform="translate(405.33,957.1) scale(1,0.686) rotate(-90)" font-size="15.1" text-anchor="end" class="s">g__Dubosiella</text>
<line x1="410.05" y1="953.3" x2="410.05" y2="955.90" stroke="#222222" stroke-width="1.1"/>
<text transform="translate(421.45,957.1) scale(1,0.686) rotate(-90)" font-size="15.1" text-anchor="end" class="s">g__Enterorhabdus</text>
<line x1="426.17" y1="953.3" x2="426.17" y2="955.90" stroke="#222222" stroke-width="1.1"/>
<text transform="translate(437.57,957.1) scale(1,0.686) rotate(-90)" font-size="15.1" text-anchor="end" class="s">g__Family_XIII_AD3011_group</text>
<line x1="442.29" y1="953.3" x2="442.29" y2="955.90" stroke="#222222" stroke-width="1.1"/>
<text transform="translate(453.69,957.1) scale(1,0.686) rotate(-90)" font-size="15.1" text-anchor="end" class="s">g__UCG−005</text>
<line x1="458.41" y1="953.3" x2="458.41" y2="955.90" stroke="#222222" stroke-width="1.1"/>
<text transform="translate(469.81,957.1) scale(1,0.686) rotate(-90)" font-size="15.1" text-anchor="end" class="s">g__Robinsoniella</text>
<line x1="474.53" y1="953.3" x2="474.53" y2="955.90" stroke="#222222" stroke-width="1.1"/>
<text transform="translate(485.93,957.1) scale(1,0.686) rotate(-90)" font-size="15.1" text-anchor="end" class="s">g__Anaerotignum</text>
<line x1="490.65" y1="953.3" x2="490.65" y2="955.90" stroke="#222222" stroke-width="1.1"/>
<text transform="translate(502.05,957.1) scale(1,0.686) rotate(-90)" font-size="15.1" text-anchor="end" class="s">g__Rikenellaceae_RC9_gut_group</text>
<line x1="506.77" y1="953.3" x2="506.77" y2="955.90" stroke="#222222" stroke-width="1.1"/>
<text transform="translate(518.17,957.1) scale(1,0.686) rotate(-90)" font-size="15.1" text-anchor="end" class="s">g__Kineothrix</text>
<line x1="522.89" y1="953.3" x2="522.89" y2="955.90" stroke="#222222" stroke-width="1.1"/>
<text transform="translate(534.29,957.1) scale(1,0.686) rotate(-90)" font-size="15.1" text-anchor="end" class="s">g__Gemmobacter</text>
<line x1="539.01" y1="953.3" x2="539.01" y2="955.90" stroke="#222222" stroke-width="1.1"/>
<text transform="translate(550.41,957.1) scale(1,0.686) rotate(-90)" font-size="15.1" text-anchor="end" class="s">g__Actinobacillus</text>
<line x1="555.13" y1="953.3" x2="555.13" y2="955.90" stroke="#222222" stroke-width="1.1"/>
<text transform="translate(566.53,957.1) scale(1,0.686) rotate(-90)" font-size="15.1" text-anchor="end" class="s">g__Peptococcus</text>
<line x1="571.25" y1="953.3" x2="571.25" y2="955.90" stroke="#222222" stroke-width="1.1"/>
<text transform="translate(582.65,957.1) scale(1,0.686) rotate(-90)" font-size="15.1" text-anchor="end" class="s">g__GCA−900066575</text>
<line x1="587.37" y1="953.3" x2="587.37" y2="955.90" stroke="#222222" stroke-width="1.1"/>
<text transform="translate(598.77,957.1) scale(1,0.686) rotate(-90)" font-size="15.1" text-anchor="end" class="s">g__Clostridia_vadinBB60_group_unclassified</text>
<text transform="translate(19.2,793.4) scale(1,0.717) rotate(-90)" font-size="19.3" text-anchor="middle" class="s">Relative Abundance</text>
<text transform="translate(1.5,16.2) scale(1,0.68)" font-size="41" class="f fb">a</text>
<text transform="translate(1.0,650.6) scale(1,0.775)" font-size="41" class="f fb">b</text>
<text transform="translate(429.7,70.6) scale(1,0.885)" font-size="19.4" class="f">Remission group</text>
<rect x="477.2" y="83.2" width="28.80" height="22.70" fill="#E41A1C"/>
<rect x="477.2" y="105.9" width="28.80" height="22.10" fill="#377EB8"/>
<line x1="477.2" y1="105.9" x2="506.0" y2="105.9" stroke="#6a2a48" stroke-width="0.8"/>
<text transform="translate(513.3,97.2) scale(1,0.89)" font-size="19.2" class="f">pre-treatment</text>
<text transform="translate(513.3,118.2) scale(1,0.89)" font-size="19.2" class="f">post-treatment</text>
<text transform="translate(424.9,691.8) scale(1,0.76)" font-size="19.5" class="f">Non-remission group</text>
<rect x="463.8" y="701.7" width="29.10" height="20.20" fill="#E41A1C"/>
<rect x="463.8" y="721.9" width="29.10" height="19.00" fill="#377EB8"/>
<line x1="463.8" y1="721.9" x2="492.9" y2="721.9" stroke="#6a2a48" stroke-width="0.8"/>
<text transform="translate(499.8,714.9) scale(1,0.8)" font-size="19.5" class="f">pre<tspan dx="0.8">-</tspan><tspan dx="0.8">treatment</tspan></text>
<text transform="translate(499.8,734.9) scale(1,0.8)" font-size="19.5" class="f">post treatment</text>
</svg></body></html>
